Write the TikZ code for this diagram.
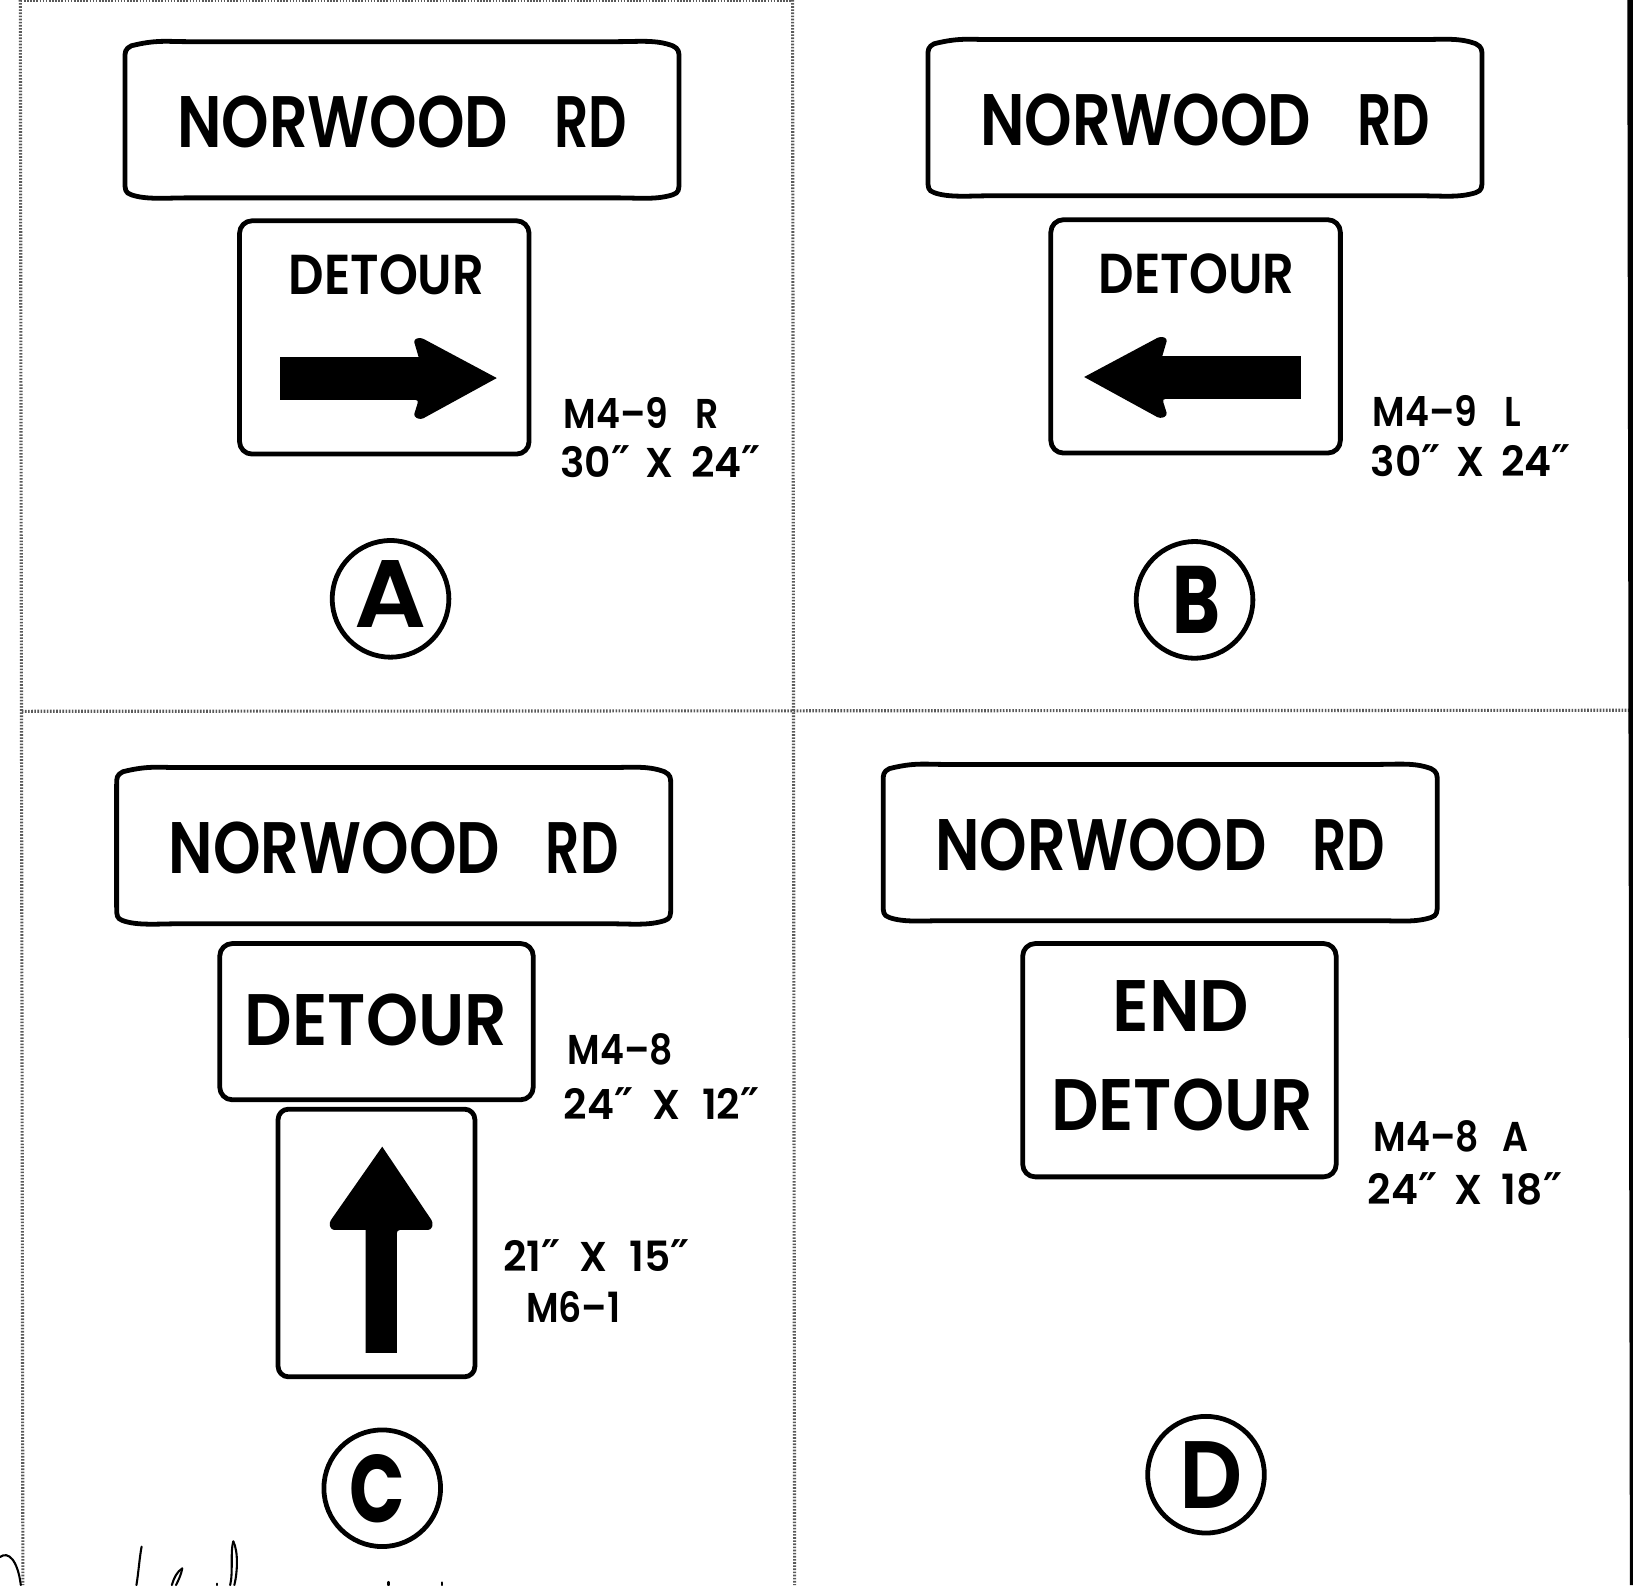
\documentclass[tikz,border=0pt]{standalone}
\usepackage{fontspec}
\setmainfont{Poppins}[UprightFont=*-SemiBold,BoldFont=*-Bold]
\newfontfamily\primefont{DejaVu Sans}
\newcommand{\dq}{{\primefont\bfseries\fontsize{42}{42}\selectfont ″}}
\tikzset{
  x=1pt,y=-1pt,
  signline/.style={draw=black,line width=4.6pt,line join=round},
  grid/.style={draw=black!65,line width=3pt,dash pattern=on 1.5pt off 1.5pt},
  ring/.style={circle,draw=black,line width=4.6pt,minimum size=112pt,inner sep=0pt},
  bigtext/.style={inner sep=0pt,font=\fontsize{70}{70}\selectfont},
  midtext/.style={inner sep=0pt,font=\fontsize{54}{54}\selectfont},
  lrgtext/.style={inner sep=0pt,font=\fontsize{70}{70}\selectfont},
  note/.style={inner sep=0pt,anchor=west,font=\fontsize{40}{40}\selectfont},
  lettertext/.style={inner sep=0pt,font=\fontsize{92}{92}\selectfont},
  ink/.style={draw=black,line width=2pt,line cap=round},
}
\newcommand{\squeeze}[2]{\scalebox{#1}[1]{#2}}
\newcommand{\dims}[3][0pt]{\squeeze{.98}{#2\dq\hspace{\dimexpr15pt+#1\relax}X\hspace{\dimexpr17pt+#1\relax}#3\dq}}
% big panel: origin top-left
\newcommand{\bigpanel}[3]{%
 \draw[signline] (#1+6,#2+4) .. controls (#1+30,#2-2) and (#1+40,#2) .. (#1+60,#2)
   -- (#1+472,#2) .. controls (#1+495,#2) and (#1+510,#2-2) .. (#1+526,#2+4)
   .. controls (#1+532,#2+7) and (#1+532,#2+10) .. (#1+532,#2+16)
   -- (#1+532,#2+134) .. controls (#1+532,#2+142) and (#1+532,#2+145) .. (#1+526,#2+147)
   .. controls (#1+510,#2+152) and (#1+495,#2+150) .. (#1+472,#2+150)
   -- (#1+60,#2+150) .. controls (#1+40,#2+150) and (#1+20,#2+152) .. (#1+6,#2+147)
   .. controls (#1,#2+145) and (#1,#2+142) .. (#1,#2+134)
   -- (#1,#2+16) .. controls (#1,#2+10) and (#1,#2+7) .. (#1+6,#2+4) -- cycle;
 \node[bigtext] (#3) at (#1+266,#2+77) {\squeeze{.83}{NORWOOD}\hspace{44pt}\squeeze{.735}{RD}};
}
\begin{document}
\begin{tikzpicture}
\useasboundingbox (0,0) rectangle (1568,1522);
\fill[white] (0,0) rectangle (1568,1522);
% frame
\coordinate (gtl) at (19.5,0); \coordinate (gbl) at (22,1522);
\coordinate (gtm) at (761,0); \coordinate (gbm) at (763,1522);
\coordinate (gml) at (21,683); \coordinate (gmr) at (1568,682);
\coordinate (top1) at (20,1); \coordinate (top2) at (760,1);
\draw[grid] (gtl) -- (gbl);
\draw[grid] (gtm) -- (gbm);
\draw[grid] (gml) -- (gmr);
\draw[grid,line width=2pt] (top1) -- (top2);
\fill[black] (1562.5,0) -- (1568,0) -- (1568,1522) -- (1565,1522) -- cycle;

% A
\bigpanel{120}{40}{ra}
\draw[signline,rounded corners=12pt] (230,212) rectangle (508,436);
\node[midtext] (da) at (371,264) {\squeeze{.88}{DETOUR}};
\fill[black] (269,343) -- (402,343) [rounded corners=3pt] -- (397,326) -- (404,324) [sharp corners] -- (477,363) [rounded corners=3pt] -- (404,403) -- (397,400) -- (402,384) [sharp corners] -- (269,384) -- cycle;
\node[note] (na1) at (541,396.5) {\squeeze{.87}{M4–9\hspace{30pt}R}};
\node[note] (na2) at (538,443) {\dims{30}{24}};
\node[ring] (ca) at (375,575) {};
\node[lettertext] (la) at (375,570) {\squeeze{1.05}{A}};

% B
\bigpanel{891}{38}{rb}
\draw[signline,rounded corners=12pt] (1009,211) rectangle (1287,435);
\node[midtext] (db) at (1149,263) {\squeeze{.88}{DETOUR}};
\fill[black] (1249,342) -- (1116,342) [rounded corners=3pt] -- (1121,325) -- (1114,323) [sharp corners] -- (1041,362) [rounded corners=3pt] -- (1114,402) -- (1121,399) -- (1116,383) [sharp corners] -- (1249,383) -- cycle;
\node[note] (nb1) at (1318,395) {\squeeze{.87}{M4–9\hspace{30pt}L}};
\node[note] (nb2) at (1316,442) {\dims{30}{24}};
\node[ring] (cb) at (1147,576) {};
\node[lettertext] (lb) at (1149,576) {\bfseries\squeeze{.76}{B}};

% C
\bigpanel{112}{737}{rc}
\draw[signline,rounded corners=12pt] (211,906) rectangle (512,1056);
\node[lrgtext] (dc) at (361,979) {\squeeze{.91}{DETOUR}};
\node[note] (nc1) at (545,1007.5) {\squeeze{.87}{M4–8}};
\node[note] (nc2) at (541,1060) {\dims[4pt]{24}{12}};
\draw[signline,rounded corners=10pt] (267,1065) rectangle (456,1322);
\fill[black] (351,1299) -- (351,1181) [rounded corners=3pt] -- (318,1181) -- (316,1174) [sharp corners] -- (367,1101) [rounded corners=3pt] -- (416,1174) -- (414,1181) -- (381,1181) [sharp corners] -- (381,1299) -- cycle;
\node[note] (nc3) at (483,1206) {\dims[4pt]{21}{15}};
\node[note] (nc4) at (505,1255) {\squeeze{.87}{M6–1}};
\node[ring] (cc) at (367,1429) {};
\node[lettertext] (lc) at (362,1429) {\bfseries\squeeze{.76}{C}};

% D
\bigpanel{848}{734}{rd}
\draw[signline,rounded corners=12pt] (982,906) rectangle (1283,1130);
\node[lrgtext] (ed) at (1134,966) {\squeeze{.945}{END}};
\node[lrgtext] (dd) at (1135,1061) {\squeeze{.91}{DETOUR}};
\node[note] (nd1) at (1319,1091.5) {\squeeze{.87}{M4–8\hspace{26pt}A}};
\node[note] (nd2) at (1313,1142) {\dims[2pt]{24}{18}};
\node[ring] (cd) at (1158,1416) {};
\node[lettertext] (ld) at (1163,1416) {\squeeze{.92}{D}};

% handwriting at the foot
\draw[ink] (0,1495) .. controls (8,1489) and (17,1498) .. (20,1522);
\draw[ink] (136,1485) .. controls (134,1495) and (133,1510) .. (131,1522);
\draw[ink] (175,1506) .. controls (170,1509) and (167,1515) .. (165,1522);
\draw[ink] (175,1506) .. controls (174,1512) and (171,1518) .. (169,1522);
\draw[ink] (224,1480) .. controls (221,1490) and (224,1510) .. (221,1522);
\draw[ink] (224,1480) .. controls (229,1490) and (228,1510) .. (225,1522);
\draw[ink] (208,1520.5) -- (208,1522);
\draw[ink] (373,1519) -- (373,1522);
\draw[ink] (424,1519.5) -- (424,1522);
\end{tikzpicture}
\end{document}
